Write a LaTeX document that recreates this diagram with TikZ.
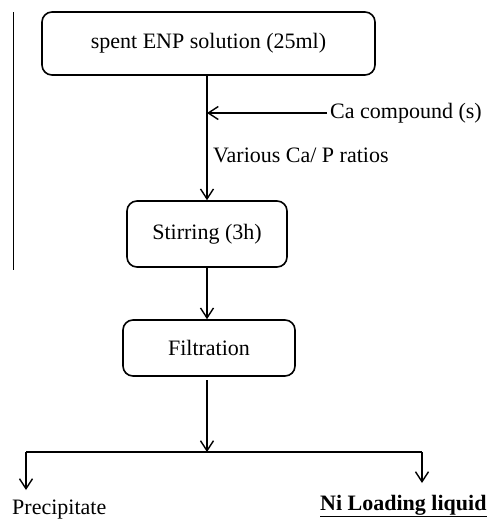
\documentclass[tikz,border=0pt]{standalone}
\usepackage{fontspec}
\setmainfont{Liberation Serif}
\usepackage{tikz}
\usetikzlibrary{arrows.meta}

\tikzset{
    procbox/.style={rectangle, draw=black, line width=1.6pt, rounded corners=10pt,
        inner sep=0pt, align=center},
    flow/.style={line width=1.4pt, -{Straight Barb[length=10pt,width=13pt,line width=1.4pt]}},
    txt/.style={inner sep=3pt, font=\fontsize{22}{26}\selectfont}
}

\begin{document}
\begin{tikzpicture}[x=1pt, y=-1pt, font=\fontsize{22}{26}\selectfont]
    \useasboundingbox (0,0) rectangle (487,523);

    % thin rule on the left
    \draw[line width=0.8pt] (13,12) -- (13,270);

    % process boxes
    \node[procbox, minimum width=333pt, minimum height=63pt] (spent) at (208.5,43.5) {spent ENP solution (25ml)};
    \node[procbox, minimum width=160pt, minimum height=66pt] (stir) at (207,234) {Stirring (3h)};
    \node[procbox, minimum width=172pt, minimum height=56pt] (filt) at (209,348) {Filtration};

    % feed of calcium
    \coordinate (join) at (207,113);
    \node[txt, anchor=west] (ca) at (327,113) {Ca compound (s)};
    \node[txt, anchor=west] (ratio) at (210,155) {Various Ca/ P ratios};

    \draw[line width=1.4pt] (spent.south -| join) -- (join);
    \draw[flow] (join) -- (stir.north -| join);
    \draw[flow] (ca.west) -- (join);

    \draw[flow] (stir.south -| join) -- (filt.north -| join);

    % split after filtration
    \coordinate (split) at (207,452);
    \coordinate (fromfilt) at (207,380);
    \coordinate (sleft) at (26,452);
    \coordinate (sright) at (422,452);
    \coordinate (eleft) at (26,490);
    \coordinate (eright) at (422,483);
    \draw[flow] (fromfilt) -- (split);
    \draw[line width=1.4pt] (sleft) -- (sright);
    \draw[flow] (sleft) -- (eleft);
    \draw[flow] (sright) -- (eright);

    \node[txt, anchor=west] (prec) at (9,510) {Precipitate};
    \node[txt, anchor=west] (niliq) at (317,506) {\underline{\textbf{Ni Loading liquid}}};
\end{tikzpicture}
\end{document}
